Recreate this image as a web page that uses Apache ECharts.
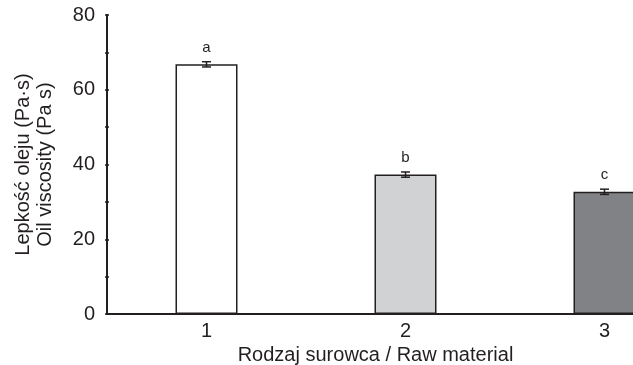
<!DOCTYPE html>
<html><head><meta charset="utf-8">
<script src="https://cdn.jsdelivr.net/npm/echarts@6/dist/echarts.min.js"></script>
<style>html,body{margin:0;padding:0;background:#fff}#c{width:633px;height:365px}</style>
</head><body><div id="c"></div>
<script>
var categories = ['1', '2', '3'];
var values = [66.8, 37.3, 32.7];
var errors = [0.7, 0.7, 0.7];
var letters = ['a', 'b', 'c'];
var barColors = ['#ffffff', '#d1d2d4', '#808285'];
var yTicks = [0, 20, 40, 60, 80];

var chart = echarts.init(document.getElementById('c'));
var ink = '#231f20';
var font = 'Liberation Sans, Arial, sans-serif';
var tickCommon = {
  type: 'value', min: yTicks[0], max: yTicks[yTicks.length - 1], interval: 20,
  splitLine: {show: false}
};
chart.setOption({
  animation: false,
  grid: {left: 107, top: 15, width: 597, height: 299, containLabel: false, outerBoundsMode: 'none'},
  xAxis: {
    type: 'category', data: categories,
    name: 'Rodzaj surowca / Raw material', nameLocation: 'middle', nameGap: 21,
    nameTextStyle: {fontSize: 20, color: ink, fontFamily: font, padding: [0, 60, 0, 0]},
    axisLine: {lineStyle: {color: ink, width: 2}},
    axisTick: {show: false},
    axisLabel: {fontSize: 20, color: ink, fontFamily: font, margin: 7}
  },
  yAxis: [Object.assign({}, tickCommon, {
    name: 'Lepkość oleju (Pa·s)\nOil viscosity (Pa s)', nameLocation: 'middle', nameGap: 51,
    nameTextStyle: {fontSize: 20, color: ink, fontFamily: font, lineHeight: 22},
    axisLine: {show: true, lineStyle: {color: ink, width: 2}},
    axisTick: {show: true, length: 2, lineStyle: {color: ink, width: 1.5}},
    minorTick: {show: true, splitNumber: 2, length: 2, lineStyle: {color: ink, width: 1.5}},
    axisLabel: {fontSize: 20, color: ink, fontFamily: font, margin: 12}
  }), Object.assign({}, tickCommon, {
    position: 'left', offset: 0,
    axisLine: {show: false},
    axisTick: {show: true, inside: true, length: 2, lineStyle: {color: ink, width: 1.5}},
    minorTick: {show: true, splitNumber: 2, length: 2, lineStyle: {color: ink, width: 1.5}},
    axisLabel: {show: false}
  })],
  series: [{
    type: 'bar', barWidth: 62,
    data: values.map(function (v, i) {
      return {value: v, itemStyle: {color: barColors[i], borderColor: ink, borderWidth: 1.5}};
    }),
    label: {show: true, position: 'top', distance: 9, fontSize: 15, color: ink, fontFamily: font,
      formatter: function (p) { return letters[p.dataIndex]; }}
  }, {
    type: 'custom',
    data: values.map(function (v, i) { return [i, v - errors[i], v + errors[i]]; }),
    renderItem: function (params, api) {
      var lo = api.coord([api.value(0), api.value(1)]);
      var hi = api.coord([api.value(0), api.value(2)]);
      var w = 4.5;
      var st = {stroke: ink, lineWidth: 1.5};
      return {type: 'group', children: [
        {type: 'line', shape: {x1: hi[0], y1: hi[1], x2: lo[0], y2: lo[1]}, style: st},
        {type: 'line', shape: {x1: hi[0] - w, y1: hi[1], x2: hi[0] + w, y2: hi[1]}, style: st},
        {type: 'line', shape: {x1: lo[0] - w, y1: lo[1], x2: lo[0] + w, y2: lo[1]}, style: st}
      ]};
    },
    z: 5
  }]
});
</script></body></html>
